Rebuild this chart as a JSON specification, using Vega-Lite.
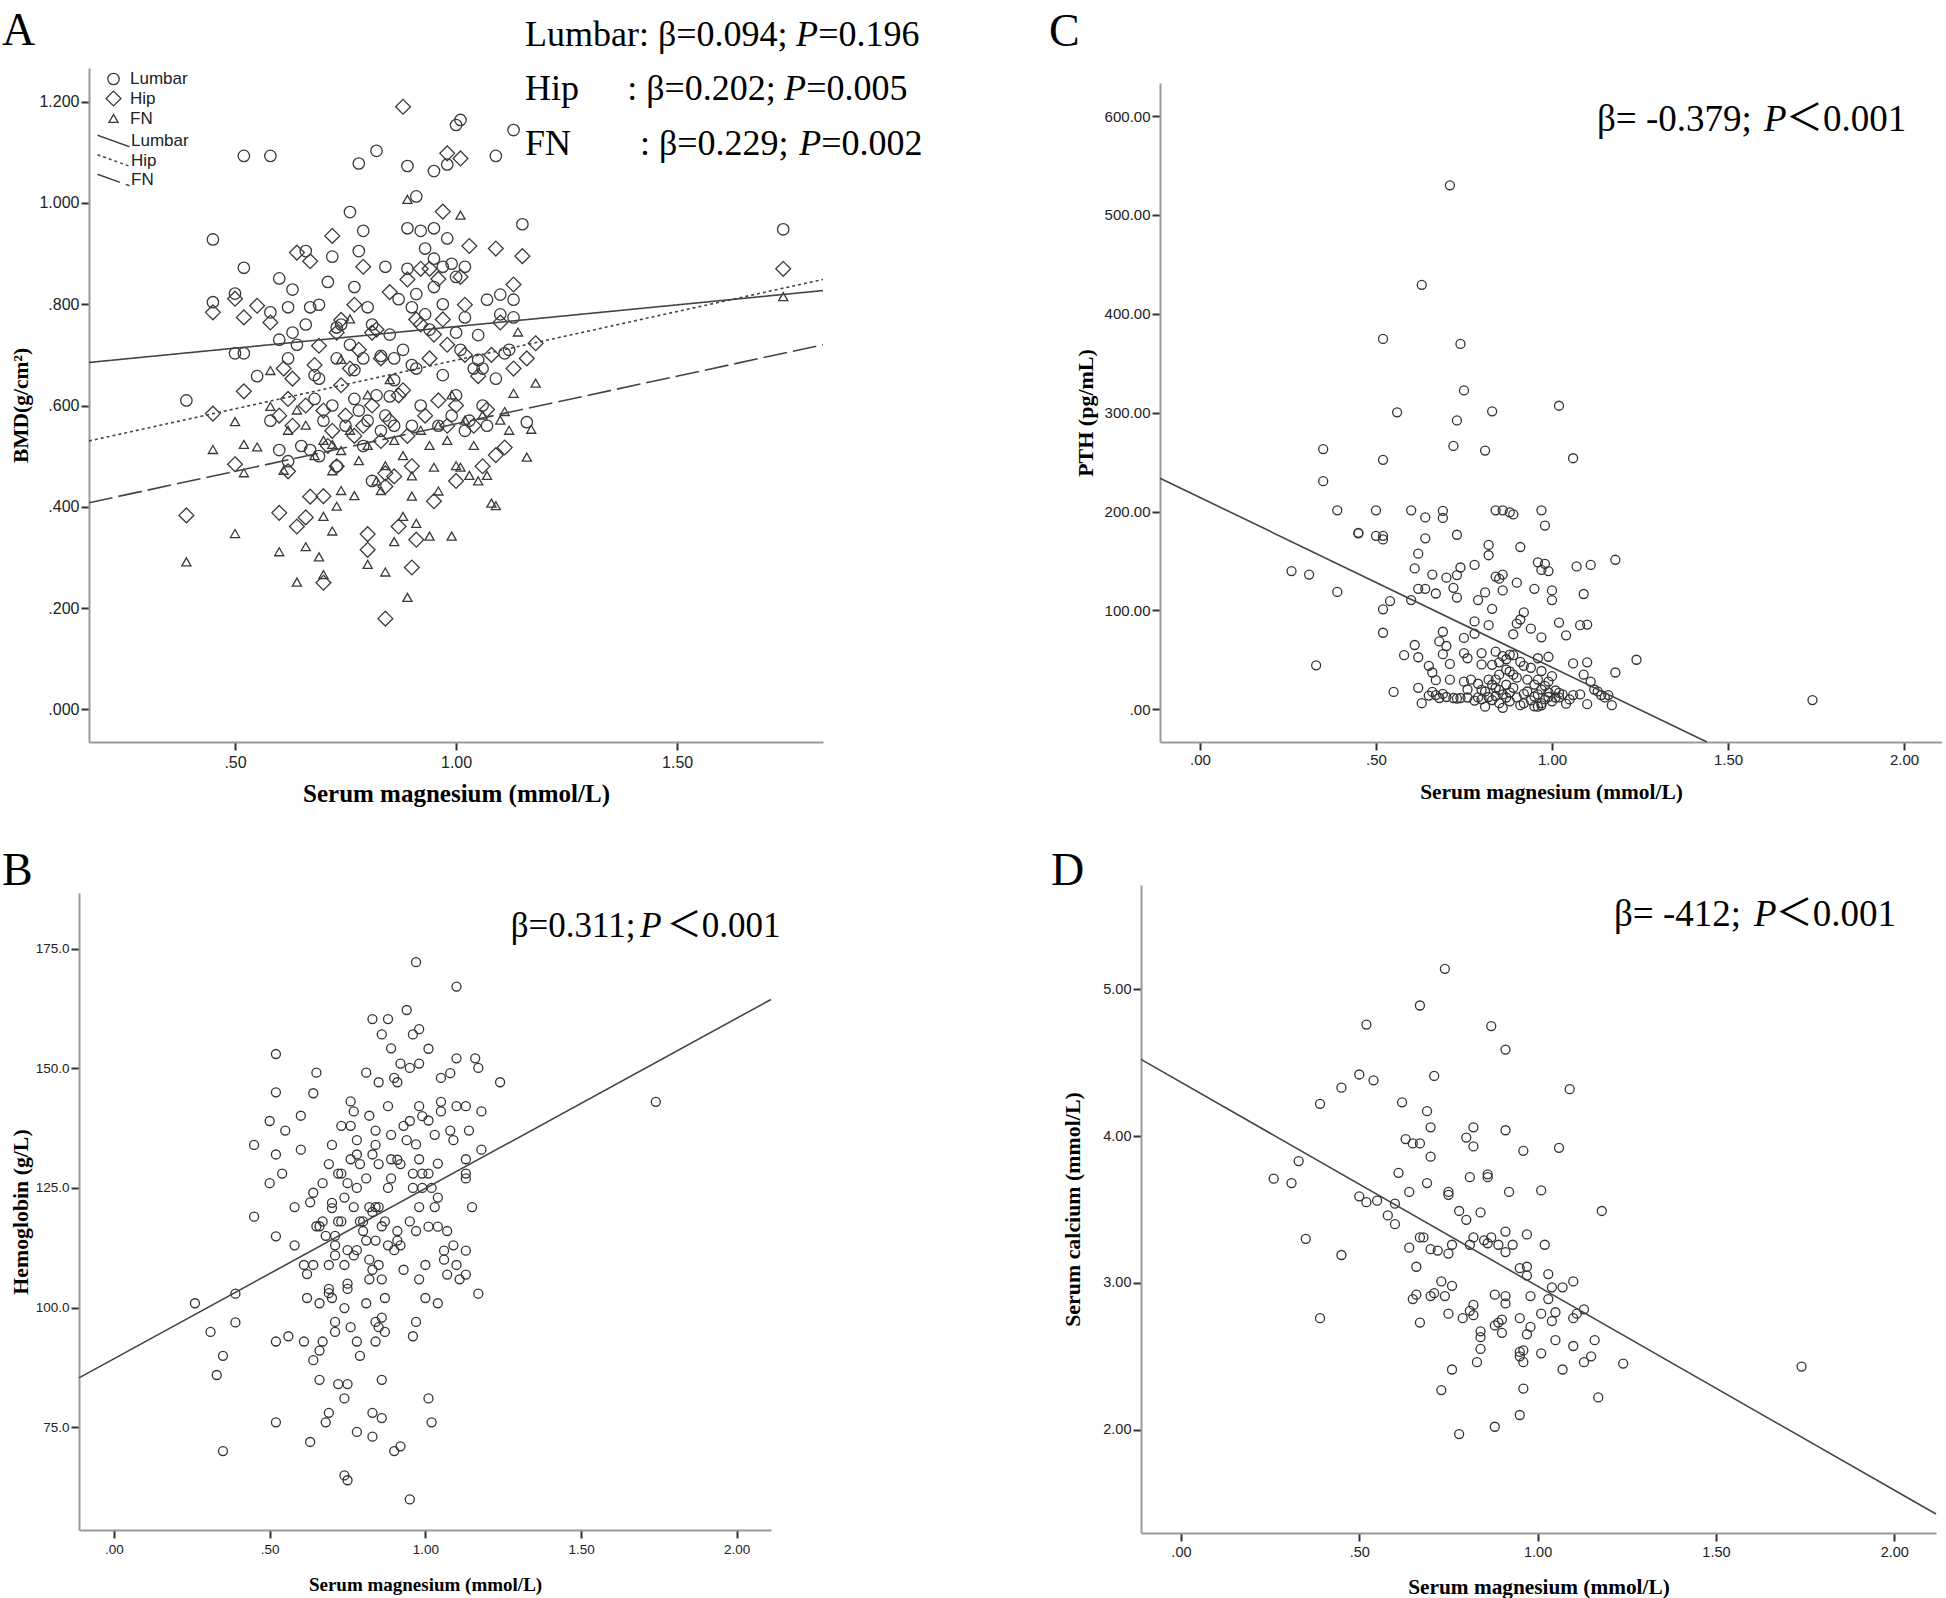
{
"$schema":"https://vega.github.io/schema/vega-lite/v6.json",
"background":"white",
"autosize":{"type":"pad"},
"padding":{"left":1,"top":7,"right":0,"bottom":0},
"config":{"view":{"stroke":null},
 "axis":{"grid":false,"domainColor":"#9a9a9a","domainWidth":2,"tickColor":"#333333","tickWidth":2,"tickSize":8,"labelColor":"#222222","labelFont":"Liberation Sans","titleFont":"Liberation Serif","titleFontWeight":"bold","titleColor":"#000000"}},
"datasets":{
"bmd":[
{"site":"Lumbar","x":0.39,"y":0.61},{"site":"Lumbar","x":0.45,"y":0.928},{"site":"Lumbar","x":0.45,"y":0.804},{"site":"Lumbar","x":0.5,"y":0.821},{"site":"Lumbar","x":0.52,"y":1.093},{"site":"Lumbar","x":0.52,"y":0.872},{"site":"Lumbar","x":0.52,"y":0.703},{"site":"Lumbar","x":0.58,"y":1.093},{"site":"Lumbar","x":0.5,"y":0.703},{"site":"Lumbar","x":0.55,"y":0.658},{"site":"Lumbar","x":0.58,"y":0.784},{"site":"Lumbar","x":0.6,"y":0.851},{"site":"Lumbar","x":0.6,"y":0.512},{"site":"Lumbar","x":0.62,"y":0.794},{"site":"Lumbar","x":0.62,"y":0.693},{"site":"Lumbar","x":0.63,"y":0.829},{"site":"Lumbar","x":0.63,"y":0.744},{"site":"Lumbar","x":0.66,"y":0.905},{"site":"Lumbar","x":0.67,"y":0.794},{"site":"Lumbar","x":0.67,"y":0.512},{"site":"Lumbar","x":0.68,"y":0.613},{"site":"Lumbar","x":0.69,"y":0.799},{"site":"Lumbar","x":0.69,"y":0.653},{"site":"Lumbar","x":0.71,"y":0.844},{"site":"Lumbar","x":0.72,"y":0.894},{"site":"Lumbar","x":0.73,"y":0.693},{"site":"Lumbar","x":0.73,"y":0.754},{"site":"Lumbar","x":0.76,"y":0.982},{"site":"Lumbar","x":0.77,"y":0.834},{"site":"Lumbar","x":0.77,"y":0.613},{"site":"Lumbar","x":0.78,"y":1.078},{"site":"Lumbar","x":0.78,"y":0.905},{"site":"Lumbar","x":0.79,"y":0.945},{"site":"Lumbar","x":0.79,"y":0.693},{"site":"Lumbar","x":0.8,"y":0.794},{"site":"Lumbar","x":0.81,"y":0.451},{"site":"Lumbar","x":0.82,"y":1.103},{"site":"Lumbar","x":0.83,"y":0.698},{"site":"Lumbar","x":0.84,"y":0.874},{"site":"Lumbar","x":0.85,"y":0.618},{"site":"Lumbar","x":0.86,"y":0.693},{"site":"Lumbar","x":0.89,"y":1.073},{"site":"Lumbar","x":0.89,"y":0.95},{"site":"Lumbar","x":0.9,"y":0.794},{"site":"Lumbar","x":0.91,"y":1.013},{"site":"Lumbar","x":0.91,"y":0.673},{"site":"Lumbar","x":0.92,"y":0.945},{"site":"Lumbar","x":0.93,"y":0.91},{"site":"Lumbar","x":0.95,"y":1.063},{"site":"Lumbar","x":0.95,"y":0.95},{"site":"Lumbar","x":0.95,"y":0.834},{"site":"Lumbar","x":0.97,"y":0.874},{"site":"Lumbar","x":0.98,"y":0.93},{"site":"Lumbar","x":0.98,"y":1.076},{"site":"Lumbar","x":1.0,"y":1.154},{"site":"Lumbar","x":1.01,"y":1.164},{"site":"Lumbar","x":1.0,"y":0.744},{"site":"Lumbar","x":1.0,"y":0.854},{"site":"Lumbar","x":1.02,"y":0.874},{"site":"Lumbar","x":1.02,"y":0.774},{"site":"Lumbar","x":1.04,"y":0.673},{"site":"Lumbar","x":1.05,"y":0.739},{"site":"Lumbar","x":1.06,"y":0.673},{"site":"Lumbar","x":1.07,"y":0.809},{"site":"Lumbar","x":1.09,"y":1.093},{"site":"Lumbar","x":1.09,"y":0.653},{"site":"Lumbar","x":1.1,"y":0.819},{"site":"Lumbar","x":1.11,"y":0.703},{"site":"Lumbar","x":1.13,"y":1.144},{"site":"Lumbar","x":1.13,"y":0.809},{"site":"Lumbar","x":1.13,"y":0.774},{"site":"Lumbar","x":1.15,"y":0.958},{"site":"Lumbar","x":1.16,"y":0.567},{"site":"Lumbar","x":1.74,"y":0.948},
{"site":"Lumbar","x":0.75,"y":0.56},{"site":"Lumbar","x":0.78,"y":0.59},{"site":"Lumbar","x":0.8,"y":0.57},{"site":"Lumbar","x":0.82,"y":0.62},{"site":"Lumbar","x":0.84,"y":0.58},{"site":"Lumbar","x":0.86,"y":0.65},{"site":"Lumbar","x":0.88,"y":0.71},{"site":"Lumbar","x":0.9,"y":0.56},{"site":"Lumbar","x":0.92,"y":0.6},{"site":"Lumbar","x":0.94,"y":0.75},{"site":"Lumbar","x":0.96,"y":0.56},{"site":"Lumbar","x":0.97,"y":0.66},{"site":"Lumbar","x":0.99,"y":0.58},{"site":"Lumbar","x":1.01,"y":0.71},{"site":"Lumbar","x":1.03,"y":0.57},{"site":"Lumbar","x":1.05,"y":0.69},{"site":"Lumbar","x":1.07,"y":0.56},{"site":"Lumbar","x":0.7,"y":0.57},{"site":"Lumbar","x":0.72,"y":0.6},{"site":"Lumbar","x":0.74,"y":0.76},{"site":"Lumbar","x":0.76,"y":0.72},{"site":"Lumbar","x":0.81,"y":0.76},{"site":"Lumbar","x":0.85,"y":0.74},{"site":"Lumbar","x":0.87,"y":0.81},{"site":"Lumbar","x":0.89,"y":0.87},{"site":"Lumbar","x":0.91,"y":0.82},{"site":"Lumbar","x":0.93,"y":0.78},{"site":"Lumbar","x":0.95,"y":0.89},{"site":"Lumbar","x":0.97,"y":0.8},{"site":"Lumbar","x":0.99,"y":0.88},{"site":"Lumbar","x":0.64,"y":0.72},{"site":"Lumbar","x":0.66,"y":0.76},{"site":"Lumbar","x":0.68,"y":0.66},{"site":"Lumbar","x":0.6,"y":0.73},{"site":"Lumbar","x":0.62,"y":0.49},{"site":"Lumbar","x":0.65,"y":0.52},{"site":"Lumbar","x":0.58,"y":0.57},{"site":"Lumbar","x":0.86,"y":0.56},{"site":"Lumbar","x":0.83,"y":0.55},{"site":"Lumbar","x":0.79,"y":0.52},{"site":"Lumbar","x":0.9,"y":0.68},{"site":"Lumbar","x":1.0,"y":0.62},{"site":"Lumbar","x":1.02,"y":0.55},{"site":"Lumbar","x":1.06,"y":0.6},{"site":"Lumbar","x":1.1,"y":0.78},{"site":"Lumbar","x":1.12,"y":0.71},{"site":"Lumbar","x":0.77,"y":0.67},{"site":"Lumbar","x":0.73,"y":0.48},{"site":"Lumbar","x":0.69,"y":0.5},
{"site":"Hip","x":0.39,"y":0.383},{"site":"Hip","x":0.45,"y":0.584},{"site":"Hip","x":0.45,"y":0.784},{"site":"Hip","x":0.5,"y":0.484},{"site":"Hip","x":0.5,"y":0.811},{"site":"Hip","x":0.52,"y":0.774},{"site":"Hip","x":0.52,"y":0.628},{"site":"Hip","x":0.55,"y":0.797},{"site":"Hip","x":0.58,"y":0.764},{"site":"Hip","x":0.6,"y":0.388},{"site":"Hip","x":0.61,"y":0.673},{"site":"Hip","x":0.62,"y":0.613},{"site":"Hip","x":0.63,"y":0.653},{"site":"Hip","x":0.64,"y":0.361},{"site":"Hip","x":0.64,"y":0.902},{"site":"Hip","x":0.66,"y":0.379},{"site":"Hip","x":0.67,"y":0.885},{"site":"Hip","x":0.69,"y":0.718},{"site":"Hip","x":0.7,"y":0.25},{"site":"Hip","x":0.7,"y":0.421},{"site":"Hip","x":0.72,"y":0.935},{"site":"Hip","x":0.73,"y":0.744},{"site":"Hip","x":0.74,"y":0.769},{"site":"Hip","x":0.76,"y":0.673},{"site":"Hip","x":0.77,"y":0.799},{"site":"Hip","x":0.79,"y":0.874},{"site":"Hip","x":0.8,"y":0.346},{"site":"Hip","x":0.8,"y":0.315},{"site":"Hip","x":0.81,"y":0.744},{"site":"Hip","x":0.83,"y":0.693},{"site":"Hip","x":0.84,"y":0.179},{"site":"Hip","x":0.84,"y":0.466},{"site":"Hip","x":0.85,"y":0.824},{"site":"Hip","x":0.87,"y":0.361},{"site":"Hip","x":0.88,"y":1.19},{"site":"Hip","x":0.89,"y":0.849},{"site":"Hip","x":0.9,"y":0.28},{"site":"Hip","x":0.91,"y":0.335},{"site":"Hip","x":0.92,"y":0.87},{"site":"Hip","x":0.94,"y":0.693},{"site":"Hip","x":0.95,"y":0.411},{"site":"Hip","x":0.97,"y":0.983},{"site":"Hip","x":0.98,"y":1.098},{"site":"Hip","x":1.0,"y":0.451},{"site":"Hip","x":1.01,"y":1.088},{"site":"Hip","x":1.01,"y":0.854},{"site":"Hip","x":1.02,"y":0.799},{"site":"Hip","x":1.03,"y":0.915},{"site":"Hip","x":1.05,"y":0.658},{"site":"Hip","x":1.07,"y":0.592},{"site":"Hip","x":1.09,"y":0.91},{"site":"Hip","x":1.09,"y":0.502},{"site":"Hip","x":1.1,"y":0.764},{"site":"Hip","x":1.11,"y":0.517},{"site":"Hip","x":1.13,"y":0.839},{"site":"Hip","x":1.13,"y":0.673},{"site":"Hip","x":1.15,"y":0.895},{"site":"Hip","x":1.16,"y":0.693},{"site":"Hip","x":1.18,"y":0.723},{"site":"Hip","x":1.74,"y":0.87},
{"site":"Hip","x":0.75,"y":0.58},{"site":"Hip","x":0.77,"y":0.54},{"site":"Hip","x":0.79,"y":0.56},{"site":"Hip","x":0.81,"y":0.6},{"site":"Hip","x":0.83,"y":0.53},{"site":"Hip","x":0.85,"y":0.57},{"site":"Hip","x":0.87,"y":0.62},{"site":"Hip","x":0.89,"y":0.54},{"site":"Hip","x":0.91,"y":0.77},{"site":"Hip","x":0.92,"y":0.76},{"site":"Hip","x":0.93,"y":0.58},{"site":"Hip","x":0.95,"y":0.74},{"site":"Hip","x":0.96,"y":0.61},{"site":"Hip","x":0.97,"y":0.77},{"site":"Hip","x":0.98,"y":0.56},{"site":"Hip","x":1.0,"y":0.6},{"site":"Hip","x":1.02,"y":0.7},{"site":"Hip","x":0.7,"y":0.59},{"site":"Hip","x":0.72,"y":0.55},{"site":"Hip","x":0.66,"y":0.6},{"site":"Hip","x":0.63,"y":0.56},{"site":"Hip","x":0.68,"y":0.68},{"site":"Hip","x":0.86,"y":0.46},{"site":"Hip","x":0.84,"y":0.44},{"site":"Hip","x":0.9,"y":0.48},{"site":"Hip","x":0.88,"y":0.63},{"site":"Hip","x":0.94,"y":0.87},{"site":"Hip","x":0.96,"y":0.85},{"site":"Hip","x":0.98,"y":0.72},{"site":"Hip","x":1.04,"y":0.56},{"site":"Hip","x":1.06,"y":0.48},{"site":"Hip","x":1.08,"y":0.7},{"site":"Hip","x":0.82,"y":0.75},{"site":"Hip","x":0.78,"y":0.71},{"site":"Hip","x":0.74,"y":0.64},{"site":"Hip","x":0.71,"y":0.52},{"site":"Hip","x":0.6,"y":0.58},{"site":"Hip","x":0.62,"y":0.47},{"site":"Hip","x":0.67,"y":0.42},{"site":"Hip","x":0.73,"y":0.48},
{"site":"FN","x":0.39,"y":0.29},{"site":"FN","x":0.45,"y":0.512},{"site":"FN","x":0.5,"y":0.567},{"site":"FN","x":0.5,"y":0.346},{"site":"FN","x":0.52,"y":0.522},{"site":"FN","x":0.52,"y":0.466},{"site":"FN","x":0.55,"y":0.517},{"site":"FN","x":0.58,"y":0.597},{"site":"FN","x":0.58,"y":0.668},{"site":"FN","x":0.6,"y":0.31},{"site":"FN","x":0.61,"y":0.471},{"site":"FN","x":0.64,"y":0.25},{"site":"FN","x":0.66,"y":0.32},{"site":"FN","x":0.69,"y":0.3},{"site":"FN","x":0.7,"y":0.265},{"site":"FN","x":0.72,"y":0.522},{"site":"FN","x":0.72,"y":0.351},{"site":"FN","x":0.74,"y":0.431},{"site":"FN","x":0.77,"y":0.421},{"site":"FN","x":0.8,"y":0.285},{"site":"FN","x":0.83,"y":0.431},{"site":"FN","x":0.84,"y":0.27},{"site":"FN","x":0.86,"y":0.33},{"site":"FN","x":0.89,"y":0.22},{"site":"FN","x":0.89,"y":1.006},{"site":"FN","x":0.91,"y":0.366},{"site":"FN","x":0.94,"y":0.341},{"site":"FN","x":0.95,"y":0.477},{"site":"FN","x":0.99,"y":0.341},{"site":"FN","x":1.01,"y":0.975},{"site":"FN","x":1.01,"y":0.477},{"site":"FN","x":1.03,"y":0.461},{"site":"FN","x":1.07,"y":0.461},{"site":"FN","x":1.08,"y":0.406},{"site":"FN","x":1.09,"y":0.401},{"site":"FN","x":1.11,"y":0.587},{"site":"FN","x":1.13,"y":0.623},{"site":"FN","x":1.14,"y":0.744},{"site":"FN","x":1.16,"y":0.497},{"site":"FN","x":1.17,"y":0.552},{"site":"FN","x":1.18,"y":0.643},{"site":"FN","x":1.74,"y":0.814},
{"site":"FN","x":0.62,"y":0.55},{"site":"FN","x":0.66,"y":0.56},{"site":"FN","x":0.68,"y":0.5},{"site":"FN","x":0.7,"y":0.53},{"site":"FN","x":0.72,"y":0.47},{"site":"FN","x":0.74,"y":0.51},{"site":"FN","x":0.76,"y":0.55},{"site":"FN","x":0.78,"y":0.49},{"site":"FN","x":0.8,"y":0.52},{"site":"FN","x":0.82,"y":0.45},{"site":"FN","x":0.84,"y":0.48},{"site":"FN","x":0.86,"y":0.53},{"site":"FN","x":0.88,"y":0.5},{"site":"FN","x":0.9,"y":0.46},{"site":"FN","x":0.92,"y":0.55},{"site":"FN","x":0.94,"y":0.52},{"site":"FN","x":0.96,"y":0.56},{"site":"FN","x":0.98,"y":0.53},{"site":"FN","x":1.0,"y":0.48},{"site":"FN","x":1.02,"y":0.57},{"site":"FN","x":1.04,"y":0.52},{"site":"FN","x":1.06,"y":0.58},{"site":"FN","x":1.1,"y":0.57},{"site":"FN","x":1.12,"y":0.55},{"site":"FN","x":0.76,"y":0.77},{"site":"FN","x":0.74,"y":0.69},{"site":"FN","x":0.8,"y":0.62},{"site":"FN","x":0.85,"y":0.65},{"site":"FN","x":0.9,"y":0.42},{"site":"FN","x":0.96,"y":0.43},{"site":"FN","x":0.88,"y":0.38},{"site":"FN","x":0.7,"y":0.38},{"site":"FN","x":0.73,"y":0.4},{"site":"FN","x":0.64,"y":0.59},{"site":"FN","x":0.99,"y":0.62},{"site":"FN","x":1.05,"y":0.45}
],
"bmdFit":[
{"fit":"Lumbar fit","x":0.1697,"y":0.685},{"fit":"Lumbar fit","x":1.83,"y":0.827},
{"fit":"Hip fit","x":0.1697,"y":0.53},{"fit":"Hip fit","x":1.83,"y":0.849},
{"fit":"FN fit","x":0.1697,"y":0.408},{"fit":"FN fit","x":1.83,"y":0.72}
],
"bmdNote":[
{"t":"Lumbar: β=0.094; ","x":1.156,"y":1.31},{"t":"P","x":1.769,"y":1.31},{"t":"=0.196","x":1.819,"y":1.31},
{"t":"Hip","x":1.156,"y":1.2034},{"t":": β=0.202; ","x":1.387,"y":1.2034},{"t":"P","x":1.742,"y":1.2034},{"t":"=0.005","x":1.792,"y":1.2034},
{"t":"FN","x":1.156,"y":1.0947},{"t":": β=0.229; ","x":1.416,"y":1.0947},{"t":"P","x":1.776,"y":1.0947},{"t":"=0.002","x":1.826,"y":1.0947}
],
"pth":[
{"x":0.26,"y":139.8},{"x":0.31,"y":136.2},{"x":0.33,"y":44.4},{"x":0.35,"y":263.2},{"x":0.35,"y":230.7},{"x":0.39,"y":201.2},{"x":0.39,"y":118.7},{"x":0.45,"y":178},{"x":0.45,"y":178.5},{"x":0.5,"y":201.2},{"x":0.5,"y":175.4},{"x":0.52,"y":374.6},{"x":0.52,"y":252.3},{"x":0.52,"y":175.4},{"x":0.52,"y":171.8},{"x":0.52,"y":101.1},{"x":0.52,"y":77.4},{"x":0.54,"y":109.4},{"x":0.55,"y":17.5},{"x":0.56,"y":300.3},{"x":0.58,"y":54.7},{"x":0.6,"y":201.2},{"x":0.6,"y":110.4},{"x":0.61,"y":142.4},{"x":0.61,"y":65},{"x":0.62,"y":157.4},{"x":0.62,"y":121.8},{"x":0.62,"y":52.6},{"x":0.62,"y":21.7},{"x":0.63,"y":429.3},{"x":0.63,"y":6.2},{"x":0.64,"y":194},{"x":0.64,"y":172.9},{"x":0.64,"y":121.8},{"x":0.65,"y":43.9},{"x":0.65,"y":13.9},{"x":0.66,"y":136.2},{"x":0.66,"y":37.2},{"x":0.66,"y":17.5},{"x":0.67,"y":117.1},{"x":0.67,"y":29.4},{"x":0.67,"y":14.4},{"x":0.68,"y":68.6},{"x":0.68,"y":11.4},{"x":0.69,"y":200.7},{"x":0.69,"y":193.5},{"x":0.69,"y":78.4},{"x":0.69,"y":55.7},{"x":0.69,"y":15.5},{"x":0.7,"y":133.1},{"x":0.7,"y":64},{"x":0.7,"y":12.4},{"x":0.71,"y":529.9},{"x":0.71,"y":45.9},{"x":0.71,"y":29.9},{"x":0.72,"y":266.3},{"x":0.72,"y":122.8},{"x":0.72,"y":11.4},{"x":0.73,"y":292.1},{"x":0.73,"y":176.5},{"x":0.73,"y":135.7},{"x":0.73,"y":113},{"x":0.73,"y":10.8},{"x":0.74,"y":369.5},{"x":0.74,"y":143.4},{"x":0.74,"y":11.4},{"x":0.75,"y":322.5},{"x":0.75,"y":72.2},{"x":0.75,"y":56.8},{"x":0.75,"y":27.9},{"x":0.76,"y":51.6},{"x":0.76,"y":11.9},{"x":0.77,"y":29.9},{"x":0.78,"y":146},{"x":0.78,"y":88.8},{"x":0.78,"y":76.4},{"x":0.78,"y":8.8},{"x":0.79,"y":110.4},{"x":0.79,"y":25.8},{"x":0.8,"y":56.8},{"x":0.8,"y":45.4},{"x":0.8,"y":19.6},{"x":0.81,"y":261.6},{"x":0.81,"y":118.2},{"x":0.81,"y":2.6},{"x":0.82,"y":166.2},{"x":0.82,"y":155.8},{"x":0.82,"y":85.1},{"x":0.82,"y":29.9},{"x":0.82,"y":12.4},{"x":0.83,"y":301.3},{"x":0.83,"y":101.6},{"x":0.83,"y":24.8},{"x":0.83,"y":9.3},{"x":0.84,"y":201.2},{"x":0.84,"y":134.2},{"x":0.84,"y":58.3},{"x":0.84,"y":21.7},{"x":0.84,"y":13.4},{"x":0.85,"y":132.1},{"x":0.85,"y":47.5},{"x":0.85,"y":19.6},{"x":0.85,"y":6.2},{"x":0.86,"y":201.2},{"x":0.86,"y":136.2},{"x":0.86,"y":120.2},{"x":0.86,"y":53.7},{"x":0.86,"y":1.5},{"x":0.87,"y":50.6},{"x":0.87,"y":24.8},{"x":0.87,"y":11.9},{"x":0.88,"y":199.2},{"x":0.88,"y":55.2},{"x":0.88,"y":38.2},{"x":0.88,"y":17},{"x":0.89,"y":197.1},{"x":0.89,"y":75.9},{"x":0.89,"y":54.7},{"x":0.89,"y":21.7},{"x":0.9,"y":128},{"x":0.9,"y":86.7},{"x":0.9,"y":32},{"x":0.91,"y":164.1},{"x":0.91,"y":90.8},{"x":0.91,"y":4.1},{"x":0.92,"y":98},{"x":0.92,"y":43.9},{"x":0.92,"y":15.5},{"x":0.94,"y":81.5},{"x":0.95,"y":121.8},{"x":0.95,"y":12.9},{"x":0.96,"y":148.6},{"x":0.96,"y":51.6},{"x":0.96,"y":2.6},{"x":0.97,"y":201.2},{"x":0.97,"y":140.9},{"x":0.97,"y":72.8},{"x":0.97,"y":38.7},{"x":0.97,"y":6.2},{"x":0.98,"y":185.8},{"x":0.98,"y":147.1},{"x":0.98,"y":23.7},{"x":0.99,"y":139.8},{"x":0.99,"y":53.1},{"x":0.99,"y":12.4},{"x":1.0,"y":120.2},{"x":1.0,"y":110.4},{"x":1.0,"y":33.5},{"x":1.01,"y":11.9},{"x":1.02,"y":307},{"x":1.02,"y":87.7},{"x":1.02,"y":16.5},{"x":1.04,"y":74.8},{"x":1.04,"y":5.7},{"x":1.06,"y":253.9},{"x":1.06,"y":46.4},{"x":1.06,"y":14.4},{"x":1.07,"y":144.5},{"x":1.08,"y":85.1},{"x":1.09,"y":116.6},{"x":1.09,"y":35.1},{"x":1.1,"y":85.7},{"x":1.1,"y":47.5},{"x":1.1,"y":5.2},{"x":1.11,"y":146},{"x":1.13,"y":18.1},{"x":1.14,"y":14.4},{"x":1.16,"y":14.4},{"x":1.17,"y":4.1},{"x":1.18,"y":151.2},{"x":1.18,"y":37.2},{"x":1.24,"y":50.1},{"x":1.74,"y":9.3},
{"x":0.88,"y":8},{"x":0.9,"y":12},{"x":0.92,"y":6},{"x":0.93,"y":18},{"x":0.94,"y":9},{"x":0.95,"y":25},{"x":0.96,"y":15},{"x":0.97,"y":20},{"x":0.98,"y":10},{"x":0.99,"y":28},{"x":1.0,"y":8},{"x":1.01,"y":19},{"x":1.02,"y":12},{"x":1.03,"y":15},{"x":0.93,"y":30},{"x":0.89,"y":35},{"x":0.85,"y":35},{"x":0.83,"y":45},{"x":0.87,"y":40},{"x":0.91,"y":48},{"x":0.96,"y":30},{"x":0.94,"y":42},{"x":0.81,"y":18},{"x":0.79,"y":12},{"x":0.76,"y":20},{"x":0.84,"y":30},{"x":0.86,"y":15},{"x":0.8,"y":10},{"x":0.99,"y":17},{"x":0.97,"y":4},{"x":0.95,"y":3},{"x":1.05,"y":10},{"x":1.08,"y":15},{"x":1.12,"y":20},{"x":1.15,"y":12},{"x":1.11,"y":28}
],
"pthFit":[{"x":-0.1136,"y":233.7},{"x":1.44,"y":-33.1}],
"pthNote":[{"t":"β= -0.379; ","x":1.128,"y":584.8},{"t":"P","x":1.602,"y":584.8},{"t":"＜0.001","x":1.665,"y":584.8}],
"hb":[
{"x":0.26,"y":100.9},{"x":0.31,"y":94.9},{"x":0.35,"y":89.9},{"x":0.33,"y":85.9},{"x":0.35,"y":70},{"x":0.39,"y":102.9},{"x":0.39,"y":96.9},{"x":0.45,"y":134},{"x":0.45,"y":119},{"x":0.5,"y":139},{"x":0.5,"y":126},{"x":0.52,"y":153},{"x":0.52,"y":145},{"x":0.52,"y":132},{"x":0.52,"y":114.9},{"x":0.52,"y":92.9},{"x":0.52,"y":76},{"x":0.54,"y":128},{"x":0.55,"y":137},{"x":0.56,"y":94},{"x":0.58,"y":121},{"x":0.58,"y":113},{"x":0.6,"y":140.1},{"x":0.6,"y":133},{"x":0.61,"y":108.9},{"x":0.61,"y":92.9},{"x":0.62,"y":107},{"x":0.62,"y":102},{"x":0.63,"y":71.9},{"x":0.63,"y":122},{"x":0.64,"y":124},{"x":0.64,"y":144.8},{"x":0.64,"y":89},{"x":0.64,"y":108.9},{"x":0.65,"y":149.1},{"x":0.65,"y":117},{"x":0.66,"y":117},{"x":0.66,"y":100.9},{"x":0.66,"y":91},{"x":0.66,"y":84.9},{"x":0.67,"y":126},{"x":0.67,"y":118},{"x":0.67,"y":92.9},{"x":0.68,"y":115},{"x":0.68,"y":76},{"x":0.69,"y":130},{"x":0.69,"y":108.9},{"x":0.69,"y":103.9},{"x":0.69,"y":103},{"x":0.69,"y":78},{"x":0.7,"y":134},{"x":0.7,"y":121.9},{"x":0.7,"y":120.8},{"x":0.7,"y":102},{"x":0.71,"y":115},{"x":0.71,"y":113},{"x":0.71,"y":110.9},{"x":0.71,"y":97},{"x":0.71,"y":94.9},{"x":0.72,"y":128},{"x":0.72,"y":118},{"x":0.72,"y":84},{"x":0.73,"y":138},{"x":0.73,"y":128},{"x":0.73,"y":118},{"x":0.74,"y":123},{"x":0.74,"y":108.9},{"x":0.74,"y":99.9},{"x":0.74,"y":81},{"x":0.74,"y":64.9},{"x":0.75,"y":126},{"x":0.75,"y":112},{"x":0.75,"y":105},{"x":0.75,"y":103.9},{"x":0.75,"y":84},{"x":0.75,"y":63.9},{"x":0.76,"y":143.1},{"x":0.76,"y":138},{"x":0.76,"y":131},{"x":0.76,"y":95.9},{"x":0.77,"y":141},{"x":0.77,"y":121},{"x":0.77,"y":110.9},{"x":0.78,"y":135},{"x":0.78,"y":132},{"x":0.78,"y":125},{"x":0.78,"y":112},{"x":0.78,"y":92.9},{"x":0.78,"y":74},{"x":0.79,"y":130},{"x":0.79,"y":118},{"x":0.79,"y":89.9},{"x":0.8,"y":118},{"x":0.8,"y":116},{"x":0.81,"y":149.1},{"x":0.81,"y":127},{"x":0.81,"y":114},{"x":0.81,"y":100.9},{"x":0.82,"y":140.1},{"x":0.82,"y":121},{"x":0.82,"y":110},{"x":0.82,"y":105.9},{"x":0.83,"y":160.3},{"x":0.83,"y":132},{"x":0.83,"y":120},{"x":0.83,"y":107.9},{"x":0.83,"y":78},{"x":0.83,"y":73},{"x":0.84,"y":137},{"x":0.84,"y":134},{"x":0.84,"y":121},{"x":0.84,"y":114},{"x":0.84,"y":97},{"x":0.84,"y":92.9},{"x":0.85,"y":147.1},{"x":0.85,"y":130},{"x":0.85,"y":121},{"x":0.85,"y":108.9},{"x":0.85,"y":95.9},{"x":0.86,"y":157.1},{"x":0.86,"y":117},{"x":0.86,"y":105.9},{"x":0.86,"y":97.9},{"x":0.86,"y":84.9},{"x":0.86,"y":76.9},{"x":0.87,"y":102},{"x":0.87,"y":94.9},{"x":0.87,"y":118},{"x":0.88,"y":160.3},{"x":0.88,"y":142.1},{"x":0.88,"y":125},{"x":0.88,"y":113},{"x":0.89,"y":154.2},{"x":0.89,"y":136.1},{"x":0.89,"y":131},{"x":0.89,"y":127},{"x":0.9,"y":148},{"x":0.9,"y":112},{"x":0.9,"y":70},{"x":0.91,"y":147.1},{"x":0.91,"y":130.9},{"x":0.91,"y":116},{"x":0.91,"y":114},{"x":0.92,"y":151},{"x":0.92,"y":130},{"x":0.92,"y":113},{"x":0.92,"y":71},{"x":0.93,"y":107.9},{"x":0.93,"y":138},{"x":0.94,"y":162.2},{"x":0.94,"y":135},{"x":0.95,"y":139},{"x":0.95,"y":118},{"x":0.95,"y":59.9},{"x":0.95,"y":150.1},{"x":0.96,"y":157.1},{"x":0.96,"y":94},{"x":0.96,"y":128},{"x":0.96,"y":125},{"x":0.97,"y":172.2},{"x":0.97,"y":134.1},{"x":0.97,"y":116},{"x":0.97,"y":97},{"x":0.98,"y":158.2},{"x":0.98,"y":151},{"x":0.98,"y":142.1},{"x":0.98,"y":131},{"x":0.98,"y":121},{"x":0.98,"y":105.9},{"x":0.99,"y":140},{"x":0.99,"y":128},{"x":0.99,"y":125},{"x":1.0,"y":108.9},{"x":1.0,"y":102},{"x":1.01,"y":154.1},{"x":1.01,"y":139.1},{"x":1.01,"y":128},{"x":1.01,"y":116.9},{"x":1.01,"y":81},{"x":1.02,"y":76},{"x":1.02,"y":125},{"x":1.03,"y":136.1},{"x":1.03,"y":121},{"x":1.04,"y":130.1},{"x":1.04,"y":123},{"x":1.04,"y":116.9},{"x":1.04,"y":100.9},{"x":1.05,"y":148},{"x":1.05,"y":143},{"x":1.05,"y":141},{"x":1.06,"y":111.9},{"x":1.06,"y":110},{"x":1.07,"y":116},{"x":1.07,"y":106.9},{"x":1.08,"y":149},{"x":1.08,"y":137},{"x":1.09,"y":135},{"x":1.09,"y":113},{"x":1.1,"y":167.1},{"x":1.1,"y":152.1},{"x":1.1,"y":142.1},{"x":1.1,"y":108.9},{"x":1.11,"y":105.9},{"x":1.13,"y":142.1},{"x":1.13,"y":131},{"x":1.13,"y":128},{"x":1.13,"y":127},{"x":1.13,"y":111.9},{"x":1.13,"y":106.9},{"x":1.14,"y":137},{"x":1.15,"y":121},{"x":1.16,"y":152.1},{"x":1.17,"y":150.1},{"x":1.17,"y":102.9},{"x":1.18,"y":141},{"x":1.18,"y":133},{"x":1.24,"y":147.1},{"x":1.74,"y":143}
],
"hbFit":[{"x":-0.1124,"y":85.3},{"x":2.11,"y":164.4}],
"hbNote":[{"t":"β=0.311; ","x":1.274,"y":177.4},{"t":"P","x":1.69,"y":177.4},{"t":"＜0.001","x":1.775,"y":177.4}],
"ca":[
{"x":0.26,"y":3.71},{"x":0.31,"y":3.68},{"x":0.33,"y":3.83},{"x":0.35,"y":3.3},{"x":0.39,"y":4.22},{"x":0.39,"y":2.76},{"x":0.45,"y":4.33},{"x":0.45,"y":3.19},{"x":0.5,"y":4.42},{"x":0.5,"y":3.59},{"x":0.52,"y":4.76},{"x":0.52,"y":3.55},{"x":0.54,"y":4.38},{"x":0.55,"y":3.56},{"x":0.58,"y":3.46},{"x":0.6,"y":3.54},{"x":0.6,"y":3.4},{"x":0.61,"y":3.75},{"x":0.62,"y":4.23},{"x":0.63,"y":3.98},{"x":0.64,"y":3.62},{"x":0.64,"y":3.24},{"x":0.65,"y":3.95},{"x":0.65,"y":2.89},{"x":0.66,"y":3.11},{"x":0.66,"y":2.92},{"x":0.67,"y":4.89},{"x":0.67,"y":3.95},{"x":0.67,"y":3.31},{"x":0.67,"y":2.73},{"x":0.68,"y":3.31},{"x":0.69,"y":4.17},{"x":0.69,"y":3.68},{"x":0.7,"y":4.06},{"x":0.7,"y":3.86},{"x":0.7,"y":3.23},{"x":0.7,"y":2.91},{"x":0.71,"y":4.41},{"x":0.71,"y":2.93},{"x":0.72,"y":3.22},{"x":0.73,"y":3.01},{"x":0.73,"y":2.27},{"x":0.74,"y":5.14},{"x":0.74,"y":2.91},{"x":0.75,"y":3.62},{"x":0.75,"y":3.6},{"x":0.75,"y":3.2},{"x":0.75,"y":2.79},{"x":0.76,"y":3.26},{"x":0.76,"y":2.98},{"x":0.76,"y":2.41},{"x":0.78,"y":1.97},{"x":0.78,"y":3.49},{"x":0.79,"y":2.76},{"x":0.8,"y":3.99},{"x":0.8,"y":3.43},{"x":0.81,"y":3.72},{"x":0.81,"y":3.26},{"x":0.81,"y":2.81},{"x":0.82,"y":4.06},{"x":0.82,"y":3.93},{"x":0.82,"y":3.31},{"x":0.82,"y":2.85},{"x":0.82,"y":2.78},{"x":0.83,"y":2.46},{"x":0.84,"y":3.48},{"x":0.84,"y":2.67},{"x":0.84,"y":2.63},{"x":0.84,"y":2.55},{"x":0.85,"y":3.29},{"x":0.86,"y":3.74},{"x":0.86,"y":3.72},{"x":0.86,"y":3.27},{"x":0.87,"y":4.75},{"x":0.87,"y":3.31},{"x":0.88,"y":2.92},{"x":0.88,"y":2.71},{"x":0.88,"y":2.02},{"x":0.89,"y":3.26},{"x":0.89,"y":2.73},{"x":0.9,"y":2.75},{"x":0.9,"y":2.66},{"x":0.91,"y":4.59},{"x":0.91,"y":4.04},{"x":0.91,"y":3.35},{"x":0.91,"y":3.21},{"x":0.91,"y":2.91},{"x":0.91,"y":2.86},{"x":0.92,"y":3.62},{"x":0.93,"y":3.26},{"x":0.95,"y":3.1},{"x":0.95,"y":2.76},{"x":0.95,"y":2.53},{"x":0.95,"y":2.5},{"x":0.95,"y":2.1},{"x":0.96,"y":3.9},{"x":0.96,"y":2.54},{"x":0.96,"y":2.46},{"x":0.96,"y":2.28},{"x":0.97,"y":3.33},{"x":0.97,"y":3.11},{"x":0.97,"y":3.05},{"x":0.97,"y":2.65},{"x":0.98,"y":2.91},{"x":0.98,"y":2.7},{"x":1.01,"y":3.63},{"x":1.01,"y":2.79},{"x":1.01,"y":2.52},{"x":1.02,"y":3.26},{"x":1.03,"y":3.06},{"x":1.03,"y":2.89},{"x":1.04,"y":2.97},{"x":1.04,"y":2.74},{"x":1.05,"y":2.8},{"x":1.05,"y":2.61},{"x":1.06,"y":3.92},{"x":1.07,"y":2.97},{"x":1.07,"y":2.41},{"x":1.09,"y":4.32},{"x":1.1,"y":3.01},{"x":1.1,"y":2.76},{"x":1.1,"y":2.57},{"x":1.11,"y":2.79},{"x":1.13,"y":2.82},{"x":1.13,"y":2.46},{"x":1.15,"y":2.5},{"x":1.16,"y":2.61},{"x":1.17,"y":2.22},{"x":1.18,"y":3.49},{"x":1.24,"y":2.45},{"x":1.74,"y":2.43}
],
"caFit":[{"x":-0.112,"y":4.523},{"x":2.117,"y":1.425}],
"caNote":[{"t":"β= -412; ","x":1.214,"y":5.431},{"t":"P","x":1.607,"y":5.431},{"t":"＜0.001","x":1.668,"y":5.431}]
},
"concat":[
{"data":{"values":[]},"mark":"point","width":1,"height":1},
{"data":{"values":[]},"mark":"point","width":1,"height":1},
{"data":{"values":[]},"mark":"point","width":1,"height":1},
{"data":{"values":[]},"mark":"point","width":1,"height":1},
{"data":{"values":[]},"mark":"point","width":1,"height":1},
{
 "width":734,"height":674,
 "title":{"text":"A","anchor":"start","frame":"group","dx":-87,"dy":38.3,"offset":0,"font":"Liberation Serif","fontSize":46,"fontWeight":"normal","color":"#000000"},
 "encoding":{
  "x":{"field":"x","type":"quantitative","scale":{"domain":[0.1697,1.83],"nice":false,"zero":false},"axis":{"values":[0.5,1,1.5],"labelExpr":"datum.value < 1 ? substring(format(datum.value,'.2f'),1) : format(datum.value,'.2f')","title":"Serum magnesium (mmol/L)","titleFontSize":25,"labelFontSize":16,"titlePadding":11,"labelPadding":4}},
  "y":{"field":"y","type":"quantitative","scale":{"domain":[-0.0646,1.2666],"nice":false,"zero":false},"axis":{"values":[0,0.2,0.4,0.6,0.8,1,1.2],"labelExpr":"datum.value < 1 ? substring(format(datum.value,'.3f'),1) : format(datum.value,'.3f')","title":"BMD(g/cm²)","titleFontSize":21.5,"labelFontSize":16,"titlePadding":6,"labelPadding":2}}
 },
 "layer":[
  {"data":{"name":"bmd"},"mark":{"type":"point","filled":false,"size":130,"strokeWidth":1.3,"color":"#3a3a3a","opacity":1},
   "encoding":{
    "shape":{"field":"site","type":"nominal","scale":{"domain":["Lumbar","Hip","FN"],"range":["circle","M0,-1.3L1.3,0L0,1.3L-1.3,0Z","M0,-0.8L0.8,0.6L-0.8,0.6Z"]},
      "legend":{"title":null,"orient":"none","legendX":104,"legendY":63.5,"symbolSize":130,"symbolStrokeColor":"#3a3a3a","symbolFillColor":"transparent","symbolStrokeWidth":1.3,"labelFont":"Liberation Sans","labelFontSize":17,"labelColor":"#222222","rowPadding":0.5,"labelOffset":8,"padding":0}}}},
  {"data":{"name":"bmdFit"},"mark":{"type":"line","color":"#444444","strokeWidth":1.6},
   "encoding":{"strokeDash":{"field":"fit","type":"nominal","scale":{"domain":["Lumbar fit","Hip fit","FN fit"],"range":[[1,0],[3,3],[24,6]]},
      "legend":{"title":null,"orient":"none","legendX":104,"legendY":125.5,"symbolType":"M-2.67,-0.96L2.67,0.96","symbolSize":144,"symbolStrokeColor":"#444444","symbolStrokeWidth":1.5,"symbolFillColor":"transparent","labelFont":"Liberation Sans","labelFontSize":17,"labelColor":"#222222","rowPadding":0.5,"labelOffset":9,"padding":0,"labelExpr":"replace(datum.label,' fit','')"}}}},
  {"data":{"name":"bmdNote"},"transform":[{"filter":"datum.t !== 'P'"}],"mark":{"type":"text","align":"left","baseline":"alphabetic","font":"Liberation Serif","fontSize":36,"color":"#000000"},"encoding":{"text":{"field":"t"}}},
  {"data":{"name":"bmdNote"},"transform":[{"filter":"datum.t === 'P'"}],"mark":{"type":"text","align":"left","baseline":"alphabetic","font":"Liberation Serif","fontSize":36,"fontStyle":"italic","color":"#000000"},"encoding":{"text":{"field":"t"}}}
 ]
},
{"data":{"values":[]},"mark":"point","width":126,"height":1},
{
 "width":782,"height":659,
 "title":{"text":"C","anchor":"start","frame":"group","dx":-111,"dy":-27.1,"offset":0,"font":"Liberation Serif","fontSize":46,"fontWeight":"normal","color":"#000000"},
 "encoding":{
  "x":{"field":"x","type":"quantitative","scale":{"domain":[-0.1136,2.108],"nice":false,"zero":false},"axis":{"values":[0,0.5,1,1.5,2],"labelExpr":"datum.value < 1 ? substring(format(datum.value,'.2f'),1) : format(datum.value,'.2f')","title":"Serum magnesium (mmol/L)","titleFontSize":21.4,"labelFontSize":15,"titlePadding":14,"labelPadding":2}},
  "y":{"field":"y","type":"quantitative","scale":{"domain":[-33.1,633.4],"nice":false,"zero":false},"axis":{"values":[0,100,200,300,400,500,600],"labelExpr":"datum.value < 1 ? substring(format(datum.value,'.2f'),1) : format(datum.value,'.2f')","title":"PTH (pg/mL)","titleFontSize":22,"labelFontSize":15,"titlePadding":7,"labelPadding":2}}
 },
 "layer":[
  {"data":{"name":"pth"},"mark":{"type":"point","shape":"circle","filled":false,"size":81,"strokeWidth":1.3,"color":"#333333","opacity":1}},
  {"data":{"name":"pthFit"},"mark":{"type":"line","color":"#444444","strokeWidth":1.6},"encoding":{}},
  {"data":{"name":"pthNote"},"transform":[{"filter":"datum.t !== 'P'"}],"mark":{"type":"text","align":"left","baseline":"alphabetic","font":"Liberation Serif, Noto Sans CJK SC","fontSize":37,"color":"#000000"},"encoding":{"text":{"field":"t"}}},
  {"data":{"name":"pthNote"},"transform":[{"filter":"datum.t === 'P'"}],"mark":{"type":"text","align":"left","baseline":"alphabetic","font":"Liberation Serif","fontSize":37,"fontStyle":"italic","color":"#000000"},"encoding":{"text":{"field":"t"}}}
 ]
},
{"data":{"values":[]},"mark":"point","width":1,"height":1},
{"data":{"values":[]},"mark":"point","width":1,"height":27},
{"data":{"values":[]},"mark":"point","width":1,"height":1},
{"data":{"values":[]},"mark":"point","width":1,"height":1},
{"data":{"values":[]},"mark":"point","width":1,"height":1},
{
 "width":692,"height":637,
 "title":{"text":["\u00a0","B"],"lineHeight":15,"anchor":"start","frame":"group","dx":-77,"dy":2.1,"offset":0,"font":"Liberation Serif","fontSize":46,"fontWeight":"normal","color":"#000000"},
 "encoding":{
  "x":{"field":"x","type":"quantitative","scale":{"domain":[-0.1124,2.11],"nice":false,"zero":false},"axis":{"values":[0,0.5,1,1.5,2],"labelExpr":"datum.value < 1 ? substring(format(datum.value,'.2f'),1) : format(datum.value,'.2f')","title":"Serum magnesium (mmol/L)","titleFontSize":19,"labelFontSize":13.5,"titlePadding":20,"labelPadding":4}},
  "y":{"field":"y","type":"quantitative","scale":{"domain":[53.5,186.66],"nice":false,"zero":false},"axis":{"values":[75,100,125,150,175],"format":".1f","title":"Hemoglobin (g/L)","titleFontSize":21.8,"labelFontSize":13.5,"titlePadding":3,"labelPadding":2}}
 },
 "layer":[
  {"data":{"name":"hb"},"mark":{"type":"point","shape":"circle","filled":false,"size":81,"strokeWidth":1.3,"color":"#333333","opacity":1}},
  {"data":{"name":"hbFit"},"mark":{"type":"line","color":"#444444","strokeWidth":1.6},"encoding":{}},
  {"data":{"name":"hbNote"},"transform":[{"filter":"datum.t !== 'P'"}],"mark":{"type":"text","align":"left","baseline":"alphabetic","font":"Liberation Serif, Noto Sans CJK SC","fontSize":35,"color":"#000000"},"encoding":{"text":{"field":"t"}}},
  {"data":{"name":"hbNote"},"transform":[{"filter":"datum.t === 'P'"}],"mark":{"type":"text","align":"left","baseline":"alphabetic","font":"Liberation Serif","fontSize":35,"fontStyle":"italic","color":"#000000"},"encoding":{"text":{"field":"t"}}}
 ]
},
{"data":{"values":[]},"mark":"point","width":1,"height":1,"title":{"text":".","anchor":"start","frame":"group","dx":-12,"offset":0,"fontSize":10,"color":"transparent"}},
{
 "width":795,"height":648,
 "title":{"text":"D","anchor":"start","frame":"group","dx":-90,"dy":10,"offset":0,"font":"Liberation Serif","fontSize":46,"fontWeight":"normal","color":"#000000"},
 "encoding":{
  "x":{"field":"x","type":"quantitative","scale":{"domain":[-0.112,2.117],"nice":false,"zero":false},"axis":{"values":[0,0.5,1,1.5,2],"labelExpr":"datum.value < 1 ? substring(format(datum.value,'.2f'),1) : format(datum.value,'.2f')","title":"Serum magnesium (mmol/L)","titleFontSize":21.3,"labelFontSize":14.5,"titlePadding":18,"labelPadding":4}},
  "y":{"field":"y","type":"quantitative","scale":{"domain":[1.296,5.711],"nice":false,"zero":false},"axis":{"values":[2,3,4,5],"format":".2f","title":"Serum calcium (mmol/L)","titleFontSize":21.9,"labelFontSize":14.5,"titlePadding":18,"labelPadding":2}}
 },
 "layer":[
  {"data":{"name":"ca"},"mark":{"type":"point","shape":"circle","filled":false,"size":81,"strokeWidth":1.3,"color":"#333333","opacity":1}},
  {"data":{"name":"caFit"},"mark":{"type":"line","color":"#444444","strokeWidth":1.6},"encoding":{}},
  {"data":{"name":"caNote"},"transform":[{"filter":"datum.t !== 'P'"}],"mark":{"type":"text","align":"left","baseline":"alphabetic","font":"Liberation Serif, Noto Sans CJK SC","fontSize":37,"color":"#000000"},"encoding":{"text":{"field":"t"}}},
  {"data":{"name":"caNote"},"transform":[{"filter":"datum.t === 'P'"}],"mark":{"type":"text","align":"left","baseline":"alphabetic","font":"Liberation Serif","fontSize":37,"fontStyle":"italic","color":"#000000"},"encoding":{"text":{"field":"t"}}}
 ]
}
],
"columns":4,
"spacing":0,
"bounds":"full",
"align":"none"
}
